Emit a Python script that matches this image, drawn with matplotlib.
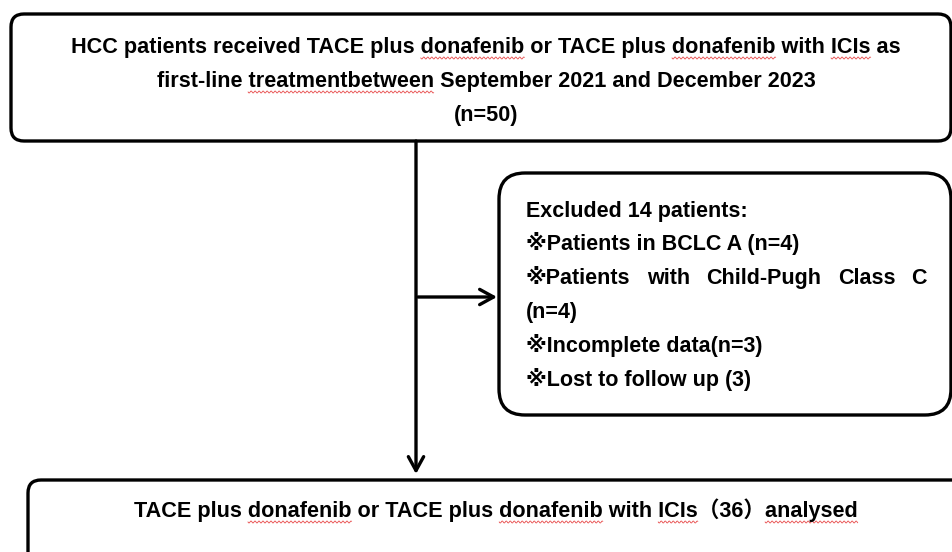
import numpy as np
import matplotlib
matplotlib.use("Agg")
import matplotlib.pyplot as plt
from matplotlib.patches import FancyBboxPatch

# Flowchart text
top_lines = ["HCC patients received TACE plus donafenib or TACE plus donafenib with ICIs as",
             "first-line treatmentbetween September 2021 and December 2023",
             "(n=50)"]
excl_title = "Excluded 14 patients:"
excl_lines = ["※Patients in BCLC A (n=4)",
              "※Patients with Child-Pugh Class C",
              "(n=4)",
              "※Incomplete data(n=3)",
              "※Lost to follow up (3)"]
justified = "※Patients with Child-Pugh Class C"
bottom_line = "TACE plus donafenib or TACE plus donafenib with ICIs（36）analysed"
flagged = ["donafenib", "ICIs", "treatmentbetween", "analysed"]

fig = plt.figure(figsize=(9.53, 5.52), dpi=100)
ax = fig.add_axes([0, 0, 1, 1])
ax.set_xlim(0, 953)
ax.set_ylim(552, 0)
ax.axis("off")


def box(x0, y0, x1, y1, r):
    ax.add_patch(FancyBboxPatch((x0, y0), x1 - x0, y1 - y0,
                                boxstyle=f"round,pad=0,rounding_size={r}",
                                fc="white", ec="black", lw=2.4))


box(11, 14, 951, 141, 13)
box(499, 173, 951, 415, 26)
box(28, 480, 975, 600, 13)

arrow = dict(arrowstyle="->,head_length=1.0,head_width=0.55", lw=2.4, color="black",
             shrinkA=0, shrinkB=0)
ax.annotate("", xy=(416, 474), xytext=(416, 141), arrowprops=arrow)
ax.annotate("", xy=(497, 297), xytext=(418, 297), arrowprops=arrow)

fig.canvas.draw()
rend = fig.canvas.get_renderer()

main_kw = dict(family=["Liberation Sans", "Noto Sans CJK SC", "DejaVu Sans"],
               fontsize=15.6, fontweight="bold")
excl_kw = dict(family=["Liberation Sans", "DejaVu Sans"], fontsize=15.5, fontweight="bold")


def width_of(s, kw):
    t = ax.text(0, 0, s, **kw)
    w = t.get_window_extent(rend).width
    t.remove()
    return w


def squiggle(x0, x1, y):
    xs = np.arange(x0, x1, 0.5)
    ys = y + 1.0 * np.sin((xs - x0) * np.pi / 2.0)
    ax.plot(xs, ys, color="#e84a4a", lw=0.6)


def centered(s, cx, base, kw):
    ax.text(cx, base, s, ha="center", va="baseline", **kw)
    left = cx - width_of(s, kw) / 2
    for word in flagged:
        start = 0
        while True:
            i = s.find(word, start)
            if i < 0:
                break
            end = left + width_of(s[:i + len(word)], kw)
            beg = end - width_of(word, kw)
            squiggle(beg, end, base + 5)
            start = i + len(word)


for s, base in zip(top_lines, [53, 87, 121]):
    centered(s, 486, base, main_kw)
centered(bottom_line, 496, 517, main_kw)

bases = [217, 250, 284, 318, 352, 386]
ax.text(526, bases[0], excl_title, ha="left", va="baseline", **excl_kw)
for s, base in zip(excl_lines, bases[1:]):
    if s == justified:
        words = s.split()
        ws = [width_of(w, excl_kw) for w in words]
        gap = (927 - 526 - sum(ws)) / (len(words) - 1)
        x = 526
        for w, wd in zip(words, ws):
            ax.text(x, base, w, ha="left", va="baseline", **excl_kw)
            x += wd + gap
    else:
        ax.text(526, base, s, ha="left", va="baseline", **excl_kw)

fig.savefig("out.png", dpi=100)
